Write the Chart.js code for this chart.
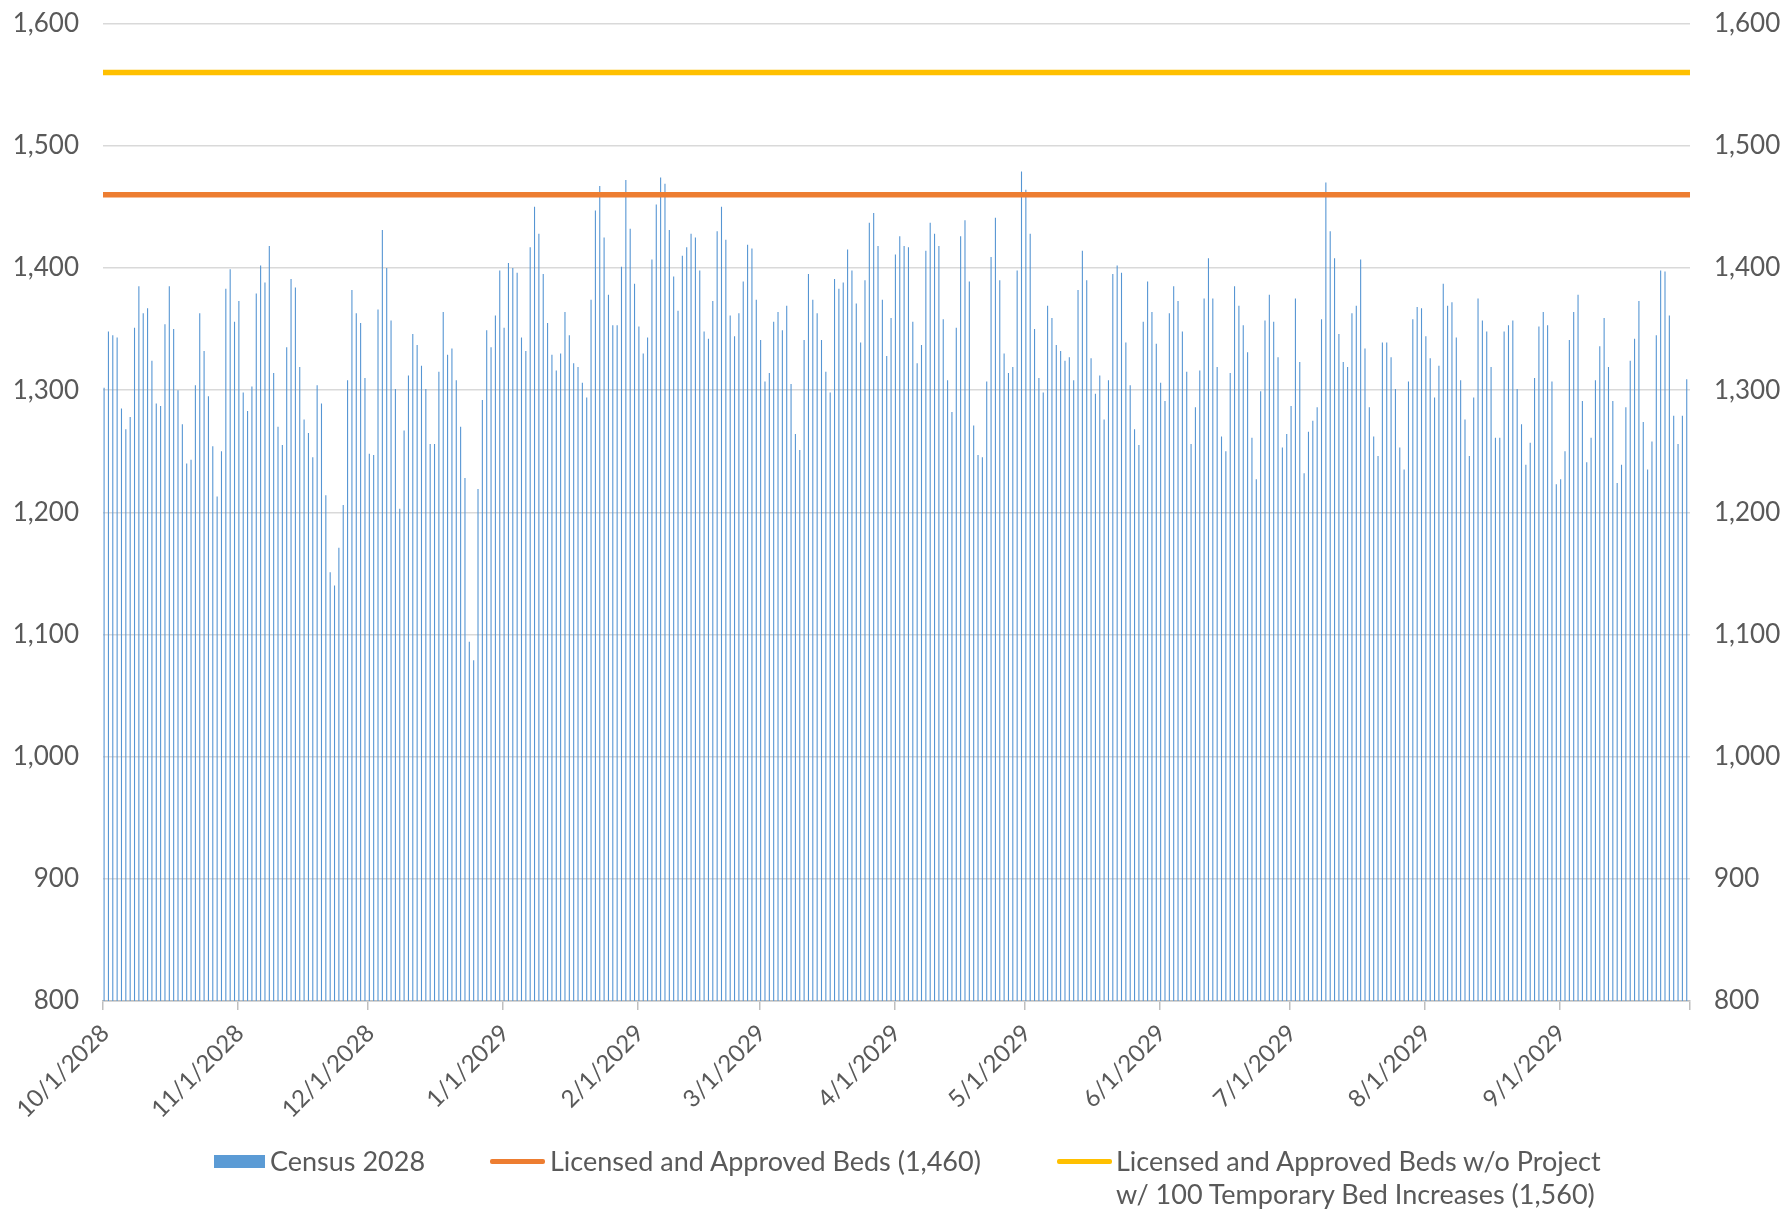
<!DOCTYPE html>
<html>
<head>
<meta charset="utf-8">
<script src="https://cdn.jsdelivr.net/npm/chart.js@4.4.1/dist/chart.umd.min.js"></script>
<style>
  html, body { margin: 0; padding: 0; background: #ffffff; overflow: hidden; }
  #wrap { position: relative; width: 1788px; height: 1212px; overflow: hidden; font-family: Lato, "Open Sans", sans-serif; }
  #chart { position: absolute; left: 0; top: -16px; }
  .lg { position: absolute; color: #595959; font-size: 27px; line-height: 33px; white-space: nowrap; }
  .sw { position: absolute; }
</style>
</head>
<body>
<div id="wrap">
  <canvas id="chart" width="1788" height="1228"></canvas>
  <div class="sw" style="left:214px; top:1155px; width:51px; height:13px; background:#5B9BD5;"></div>
  <div class="lg" style="left:270px; top:1144px;">Census 2028</div>
  <div class="sw" style="left:490px; top:1159px; width:55px; height:5px; background:#ED7D31; border-radius:2px;"></div>
  <div class="lg" style="left:550px; top:1144px;">Licensed and Approved Beds (1,460)</div>
  <div class="sw" style="left:1057px; top:1159px; width:55px; height:5px; background:#FFC000; border-radius:2px;"></div>
  <div class="lg" style="left:1116px; top:1144px;">Licensed and Approved Beds w/o Project<br>w/ 100 Temporary Bed Increases (1,560)</div>
</div>
<script>
// ---- Data ----
const startYear = 2028, startMonth = 10, startDay = 1, dayCount = 365;
const monthTickLabels = ['10/1/2028','11/1/2028','12/1/2028','1/1/2029','2/1/2029','3/1/2029',
                         '4/1/2029','5/1/2029','6/1/2029','7/1/2029','8/1/2029','9/1/2029'];
const census2028 = [
1302,1348,1345,1343,1285,1268,1278,1351,1385,1363,
1367,1324,1289,1287,1354,1385,1350,1300,1272,1240,
1243,1304,1363,1332,1295,1254,1213,1250,1383,1399,
1356,1373,1298,1283,1303,1379,1402,1388,1418,1314,
1270,1255,1335,1391,1384,1319,1276,1265,1245,1304,
1289,1214,1151,1140,1171,1206,1308,1382,1363,1355,
1310,1248,1247,1366,1431,1400,1357,1301,1203,1267,
1312,1346,1337,1320,1301,1256,1256,1315,1364,1329,
1334,1308,1270,1228,1094,1079,1219,1292,1349,1335,
1361,1398,1351,1404,1400,1396,1343,1332,1417,1450,
1428,1395,1355,1329,1316,1330,1364,1345,1322,1319,
1306,1294,1374,1447,1467,1425,1378,1353,1353,1401,
1472,1432,1387,1352,1330,1343,1407,1452,1474,1469,
1431,1393,1365,1410,1417,1428,1425,1398,1348,1342,
1373,1430,1450,1423,1361,1344,1363,1389,1419,1416,
1374,1341,1307,1314,1356,1364,1349,1369,1305,1264,
1251,1341,1395,1374,1363,1341,1315,1298,1391,1383,
1388,1415,1398,1371,1339,1390,1437,1445,1418,1374,
1328,1359,1411,1426,1418,1417,1356,1322,1337,1414,
1437,1428,1418,1358,1308,1282,1351,1426,1439,1389,
1271,1247,1245,1307,1409,1441,1390,1330,1314,1319,
1398,1479,1464,1428,1350,1310,1298,1369,1359,1337,
1332,1324,1327,1308,1382,1414,1390,1326,1297,1312,
1276,1308,1395,1402,1396,1339,1304,1268,1255,1356,
1389,1364,1338,1306,1291,1363,1385,1373,1348,1315,
1256,1286,1316,1375,1408,1375,1319,1262,1250,1314,
1385,1369,1353,1331,1261,1227,1299,1357,1378,1356,
1327,1253,1264,1287,1375,1323,1232,1266,1275,1286,
1358,1470,1430,1408,1346,1323,1319,1363,1369,1407,
1334,1286,1262,1246,1339,1339,1327,1301,1253,1235,
1307,1358,1368,1367,1344,1326,1294,1320,1387,1369,
1372,1343,1308,1276,1246,1294,1375,1357,1348,1319,
1261,1261,1348,1353,1357,1301,1272,1239,1257,1310,
1352,1364,1353,1307,1223,1227,1250,1341,1364,1378,
1291,1241,1261,1308,1336,1359,1319,1291,1224,1239,
1286,1324,1342,1373,1274,1235,1258,1345,1398,1397,
1361,1279,1256,1279,1309];
const licensedBeds = [1460, 1460];
const temporaryBeds = [1560, 1560];
const yTicks = [800, 900, 1000, 1100, 1200, 1300, 1400, 1500, 1600];

// ---- Categories (one per day) ----
const dayLabels = [];
for (let i = 0; i < dayCount; i++) {
  const d = new Date(startYear, startMonth - 1, startDay + i);
  dayLabels.push((d.getMonth() + 1) + '/' + d.getDate() + '/' + d.getFullYear());
}
const monthStartIdx = new Set(monthTickLabels.map(l => dayLabels.indexOf(l)));

const tickColor = '#595959';
const gridColor = '#D9D9D9';
const yFont = { family: 'Lato, "Open Sans", sans-serif', size: 26 };
const xFont = { family: 'Lato, "Open Sans", sans-serif', size: 24 };

const yCommon = {
  type: 'linear', min: 800, max: 1600,
  afterBuildTicks: s => { s.ticks = yTicks.map(v => ({ value: v })); },
  border: { display: false },
  ticks: { color: tickColor, font: yFont, padding: 24,
           callback: v => v.toLocaleString('en-US') }
};

new Chart(document.getElementById('chart'), {
  data: {
    labels: dayLabels,
    datasets: [
      { type: 'bar', label: 'Census 2028', data: census2028, backgroundColor: '#5595D3',
        barPercentage: 0.5, categoryPercentage: 1.0, order: 3, yAxisID: 'y', xAxisID: 'x' },
      { type: 'line', label: 'Licensed and Approved Beds (1,460)',
        data: licensedBeds.map((v, i) => ({ x: i, y: v })), borderColor: '#ED7D31',
        borderWidth: 5.5, pointRadius: 0, xAxisID: 'xl', yAxisID: 'y', order: 1, borderCapStyle: 'round' },
      { type: 'line', label: 'Licensed and Approved Beds w/o Project w/ 100 Temporary Bed Increases (1,560)',
        data: temporaryBeds.map((v, i) => ({ x: i, y: v })), borderColor: '#FFC000',
        borderWidth: 5.5, pointRadius: 0, xAxisID: 'xl', yAxisID: 'y', order: 2, borderCapStyle: 'round' }
    ]
  },
  options: {
    responsive: false,
    animation: false,
    layout: { padding: { top: 10, right: 0, left: 0, bottom: 0 } },
    plugins: { legend: { display: false }, tooltip: { enabled: false } },
    scales: {
      x: {
        type: 'category', offset: true,
        afterFit: s => { s.height = 211; },
        grid: { offset: true, drawOnChartArea: false, tickLength: 9, lineWidth: 1.5,
                color: ctx => (ctx.type !== 'tick' || monthStartIdx.has(ctx.index)) ? '#BFBFBF' : 'rgba(0,0,0,0)' },
        border: { display: true, color: '#BFBFBF', width: 1.5 },
        ticks: { autoSkip: false, minRotation: 45, maxRotation: 45, color: tickColor, font: xFont, padding: 9,
                 callback: function (v, i) { return monthStartIdx.has(i) ? dayLabels[i] : ''; } }
      },
      xl: { type: 'linear', min: 0, max: 1, display: false },
      y: Object.assign({}, yCommon, {
        position: 'left',
        afterFit: s => { s.width = 103; },
        grid: { color: gridColor, lineWidth: 1.5, drawTicks: false }
      }),
      y2: Object.assign({}, yCommon, {
        position: 'right',
        afterFit: s => { s.width = 98; },
        grid: { drawOnChartArea: false, drawTicks: false }
      })
    }
  }
});
</script>
</body>
</html>
